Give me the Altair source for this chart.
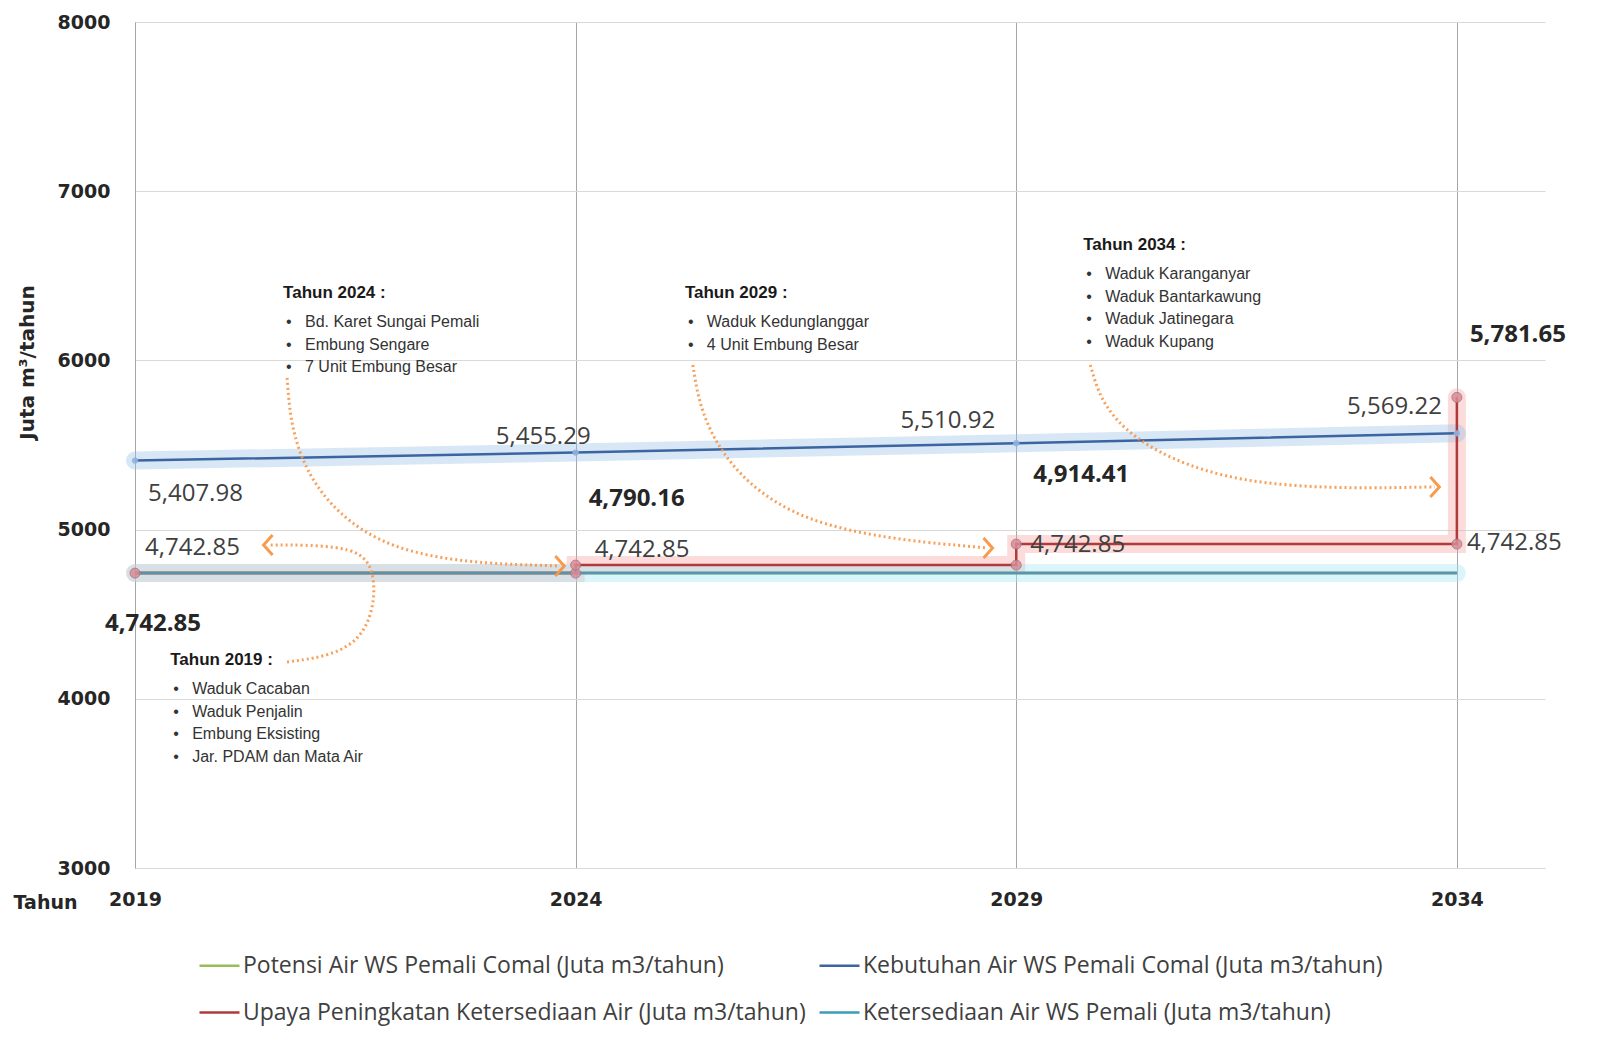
import altair as alt
import pandas as pd

# ---------------- data ----------------
years = [2019, 2024, 2029, 2034]
potensi = [4742.85, 4742.85, 4742.85, 4742.85]
kebutuhan = [5407.98, 5455.29, 5510.92, 5569.22]
upaya = [4742.85, 4790.16, 4914.41, 5781.65]
ketersediaan = [4742.85, 4742.85, 4742.85, 4742.85]

series_names = [
    "Potensi Air WS Pemali Comal (Juta m3/tahun)",
    "Kebutuhan Air WS Pemali Comal (Juta m3/tahun)",
    "Upaya Peningkatan Ketersediaan Air (Juta m3/tahun)",
    "Ketersediaan Air WS Pemali (Juta m3/tahun)",
]
y_ticks = [3000, 4000, 5000, 6000, 7000, 8000]
x_ticks = [2019, 2024, 2029, 2034]

ann_titles = ["Tahun 2019 :", "Tahun 2024 :", "Tahun 2029 :", "Tahun 2034 :"]
ann_items = [
    ["Waduk Cacaban", "Waduk Penjalin", "Embung Eksisting", "Jar. PDAM dan Mata Air"],
    ["Bd. Karet Sungai Pemali", "Embung Sengare", "7 Unit Embung Besar"],
    ["Waduk Kedunglanggar", "4 Unit Embung Besar"],
    ["Waduk Karanganyar", "Waduk Bantarkawung", "Waduk Jatinegara", "Waduk Kupang"],
]

# ---------------- styles ----------------
line_colors = ["#9BBB59", "#3B64A0", "#B03A3A", "#3A9DB5"]
glow_colors = {1: "#9DC3E6", 2: "#F8A5A5", 3: "#A5E8F5"}
ORANGE = "#F79646"
AX_FONT = "DejaVu Sans"
VAL_FONT = "Open Sans"
ANN_FONT = "Liberation Sans Narrow, Liberation Sans"
NB = "\u00a0"

# ---------------- build long table ----------------
rows = []
for name, vals in [(series_names[0], potensi), (series_names[1], kebutuhan), (series_names[3], ketersediaan)]:
    for i, (yr, v) in enumerate(zip(years, vals)):
        rows.append({"series": name, "year": yr, "value": v, "ord": i})
# step path for Upaya
k = 0
rows.append({"series": series_names[2], "year": years[0], "value": upaya[0], "ord": k})
for i in range(1, len(years)):
    k += 1
    rows.append({"series": series_names[2], "year": years[i], "value": upaya[i - 1], "ord": k})
    k += 1
    rows.append({"series": series_names[2], "year": years[i], "value": upaya[i], "ord": k})
df = pd.DataFrame(rows)

xs = alt.Scale(domain=[2019, 2035], nice=False, zero=False)
ys = alt.Scale(domain=[3000, 8000], nice=False, zero=False)

X = alt.X("year:Q", scale=xs, axis=alt.Axis(
    values=x_ticks, format="d", ticks=False, grid=True, gridColor="#A6A6A6", gridWidth=1,
    domainColor="#D9D9D9", labelFont=AX_FONT, labelFontSize=19, labelFontWeight="bold",
    labelColor="#262626", labelPadding=22, labelFlush=False, title="Tahun", titleFont=AX_FONT,
    titleFontSize=19, titleFontWeight="bold", titleColor="#262626",
    titleX=-90, titleY=40, titleAnchor="start", titleAlign="center", titleBaseline="alphabetic"))
Y = alt.Y("value:Q", scale=ys, axis=alt.Axis(
    values=y_ticks, format="d", ticks=False, grid=True, gridColor="#D9D9D9", gridWidth=1,
    domainColor="#A6A6A6", labelFont=AX_FONT, labelFontSize=19, labelFontWeight="bold",
    labelColor="#262626", labelPadding=25, labelFlush=False, title="Juta m³/tahun",
    titleFont=AX_FONT, titleFontSize=20, titleFontWeight="bold", titleColor="#262626",
    titleX=-98, titleY=340, titleAnchor="start", titleAlign="center", titleAngle=270))

base = alt.Chart(df)
layers = []

# glow layers
for idx in [2, 3, 1]:
    layers.append(
        base.transform_filter(alt.datum.series == series_names[idx])
        .mark_line(strokeWidth=18, opacity=0.4, color=glow_colors[idx], strokeCap="round")
        .encode(x=X, y=Y, order="ord:Q")
    )

# main lines (with legend)
layers.append(
    base.mark_line(strokeWidth=2.5).encode(
        x=X, y=Y, order="ord:Q",
        color=alt.Color("series:N", scale=alt.Scale(domain=series_names, range=line_colors),
                        legend=alt.Legend(title=None, orient="none", legendX=63, legendY=922,
                                          columns=2, direction="horizontal", symbolType="stroke",
                                          symbolSize=1600, symbolStrokeWidth=2.5,
                                          labelFont=VAL_FONT, labelFontSize=23,
                                          labelColor="#404040", labelLimit=900,
                                          columnPadding=8, rowPadding=13, labelOffset=2)),
    )
)
# Ketersediaan line redrawn on top (it covers the Upaya line where they coincide)
layers.append(
    base.transform_filter(alt.datum.series == series_names[3])
    .mark_line(strokeWidth=2.5, color="#5E93AE", opacity=0.95)
    .encode(x=X, y=Y, order="ord:Q")
)

# markers
layers.append(
    base.transform_filter(alt.datum.series == series_names[2])
    .mark_point(filled=True, size=100, color="#D98C96", opacity=0.85, stroke="#A07886", strokeWidth=1)
    .encode(x=X, y=Y)
)
layers.append(
    base.transform_filter(alt.datum.series == series_names[1])
    .mark_point(filled=True, size=40, color="#8FB3E0", opacity=0.9)
    .encode(x=X, y=Y)
)

# value labels
def vlabel(yr, v, dx, dy, align, bold):
    d = pd.DataFrame({"year": [yr], "value": [v], "label": [f"{v:,.2f}"]})
    return alt.Chart(d).mark_text(
        dx=dx, dy=dy, align=align, baseline="middle", font=VAL_FONT, fontSize=24,
        fontWeight="bold" if bold else "normal", color="#262626" if bold else "#404040",
    ).encode(x=X, y=Y, text="label:N")

keb_off = [(13, 33, "left"), (15, -16, "right"), (-21, -22, "right"), (-15, -26, "right")]
ket_off = [(10, -25, "left"), (19, -23, "left"), (14, -28, "left"), (10, -30, "left")]
upa_off = [(18, 51, "center"), (13, -66, "left"), (17, -69, "left"), (13, -62, "left")]
for i, yr in enumerate(years):
    layers.append(vlabel(yr, kebutuhan[i], *keb_off[i], False))
    layers.append(vlabel(yr, ketersediaan[i], *ket_off[i], False))
    layers.append(vlabel(yr, upaya[i], *upa_off[i], True))

# annotation blocks (anchor = first line position in data units)
ann_anchor = [(2019.40, 4229), (2020.68, 6398), (2025.24, 6398), (2029.76, 6682)]
ann_df = pd.DataFrame({
    "year": [a[0] for a in ann_anchor],
    "value": [a[1] for a in ann_anchor],
    "title": ann_titles,
    "items": ["\n".join("•" + NB * 3 + s for s in items) for items in ann_items],
})
layers.append(
    alt.Chart(ann_df).mark_text(align="left", baseline="middle", font=ANN_FONT, fontSize=17,
                                fontWeight="bold", color="#1a1a1a")
    .encode(x=X, y=Y, text="title:N")
)
layers.append(
    alt.Chart(ann_df).mark_text(align="left", baseline="top", font=ANN_FONT, fontSize=16,
                                lineBreak="\n", lineHeight=22.5, dx=3, dy=21, color="#333333")
    .encode(x=X, y=Y, text="items:N")
)

# curved dotted arrows (control points in data units)
arrows = [
    [(2020.725, 5896), (2020.815, 5352), (2021.78, 4820), (2023.82, 4785)],
    [(2020.725, 4217), (2021.667, 4288), (2021.78, 4820), (2021.33, 4909), (2020.51, 4909)],
    [(2025.33, 5973), (2025.47, 5530), (2026.43, 4998), (2028.68, 4891)],
    [(2029.84, 5973), (2030.06, 5589), (2031.43, 5234), (2033.75, 5252)],
]
arr_rows = []
head_rows = []
for a, pts in enumerate(arrows):
    for j, (yr, v) in enumerate(pts):
        arr_rows.append({"arrow": a, "ord": j, "year": yr, "value": v})
    head_rows.append({"arrow": a, "year": pts[-1][0], "value": pts[-1][1],
                      "dir": "left" if pts[-1][0] < pts[-2][0] else "right"})
arr_df = pd.DataFrame(arr_rows)
head_df = pd.DataFrame(head_rows)
layers.append(
    alt.Chart(arr_df).mark_line(interpolate="basis", strokeDash=[2, 3], strokeWidth=3,
                                color=ORANGE, opacity=0.9)
    .encode(x=X, y=Y, detail="arrow:N", order="ord:Q")
)
layers.append(
    alt.Chart(head_df).transform_filter(alt.datum.dir == "right")
    .mark_point(shape="M-0.45,-1L0.45,0L-0.45,1", size=400, filled=False, color=ORANGE,
                strokeWidth=3, opacity=0.95)
    .encode(x=X, y=Y)
)
layers.append(
    alt.Chart(head_df).transform_filter(alt.datum.dir == "left")
    .mark_point(shape="M0.45,-1L-0.45,0L0.45,1", size=400, filled=False, color=ORANGE,
                strokeWidth=3, opacity=0.95)
    .encode(x=X, y=Y)
)

chart = alt.layer(*layers).properties(
    width=1410, height=846,
    autosize=alt.AutoSizeParams(type="none"),
    padding={"left": 127, "top": 14, "right": 50, "bottom": 170},
).configure_view(stroke=None)

chart.save("out.html", embed_options={"renderer": "svg", "actions": False})
